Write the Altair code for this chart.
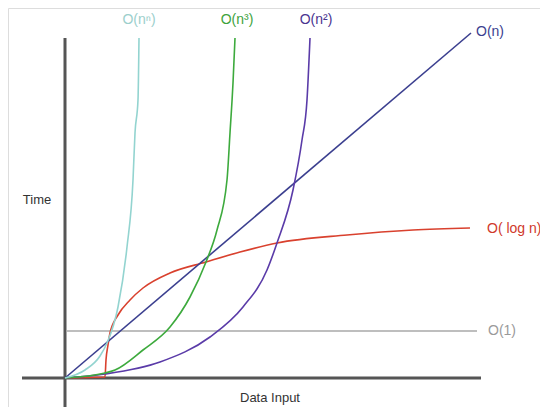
import altair as alt
import pandas as pd

# Curves (x: data input, y: time; arbitrary units)
series_names = ["O(1)", "O(log n)", "O(n)", "O(n²)", "O(n³)", "O(nⁿ)"]
series_colors = ["#a8a8a8", "#d9412e", "#3b3f8f", "#5a3ba8", "#3daa3d", "#93d4d0"]

const_x = [2, 412]
const_y = [47, 47]

log_x = [0, 40, 41, 43, 45, 53, 65, 78, 105, 141, 175, 212, 282, 348, 405]
log_y = [0, 1, 18, 33, 45, 63, 78, 90, 105, 116, 126, 135, 143, 148, 150]

lin_x = [0, 406]
lin_y = [0, 345]

quad_x = [0, 40, 95, 145, 178, 202, 212, 228, 237, 242, 245]
quad_y = [0, 4, 16, 41, 71, 108, 135, 188, 238, 278, 340]

cube_x = [0, 40, 50, 78, 105, 125, 141, 152, 162, 165, 168, 170]
cube_y = [0, 5, 8, 28, 51, 81, 116, 148, 198, 245, 295, 340]

exp_x = [0, 20, 35, 42, 53, 62, 68, 70, 73, 74]
exp_y = [0, 8, 22, 35, 71, 131, 198, 245, 278, 340]

all_x = [const_x, log_x, lin_x, quad_x, cube_x, exp_x]
all_y = [const_y, log_y, lin_y, quad_y, cube_y, exp_y]

rows = []
for name, xs_, ys_ in zip(series_names, all_x, all_y):
    for i, (a, b) in enumerate(zip(xs_, ys_)):
        rows.append({"series": name, "i": i, "x": a, "y": b})
curves = pd.DataFrame(rows)

# axis lines (in data units)
axis_x_start, axis_x_end = -43, 416
axis_y_start, axis_y_end = -37, 340

# labels
top_labels = ["O(nⁿ)", "O(n³)", "O(n²)"]
top_label_x = [74, 172, 251]
top_label_y = [358, 358, 358]
top_label_colors = ["#9ccfcc", "#3da33d", "#4a3590"]

side_labels = ["O(n)", "O( log n)", "O(1)"]
side_label_x = [411, 422, 423]
side_label_y = [346, 149, 47]
side_label_colors = ["#3b3f8f", "#d0392b", "#9a9a9a"]

xs = alt.Scale(domain=[-57, 475], nice=False, zero=False)
ys = alt.Scale(domain=[-29, 370], nice=False, zero=False)

lines = alt.Chart(curves).mark_line(strokeWidth=1.6, clip=False, interpolate="monotone").encode(
    x=alt.X("x:Q", scale=xs, axis=None),
    y=alt.Y("y:Q", scale=ys, axis=None),
    color=alt.Color("series:N", scale=alt.Scale(domain=series_names, range=series_colors), legend=None),
    order="i:Q",
)

axes_df = pd.DataFrame({
    "x": [axis_x_start, 0], "x2": [axis_x_end, 0],
    "y": [0, axis_y_start], "y2": [0, axis_y_end],
})
axes = alt.Chart(axes_df).mark_rule(color="#555555", strokeWidth=3, clip=False).encode(
    x=alt.X("x:Q", scale=xs, axis=None), x2="x2:Q",
    y=alt.Y("y:Q", scale=ys, axis=None), y2="y2:Q",
)

top_df = pd.DataFrame({"t": top_labels, "x": top_label_x, "y": top_label_y, "c": top_label_colors})
top_text = alt.Chart(top_df).mark_text(align="center", baseline="middle", fontSize=14,
                                       font="Liberation Sans").encode(
    x=alt.X("x:Q", scale=xs, axis=None), y=alt.Y("y:Q", scale=ys, axis=None),
    text="t:N", color=alt.Color("c:N", scale=None),
)

side_df = pd.DataFrame({"t": side_labels, "x": side_label_x, "y": side_label_y, "c": side_label_colors})
side_text = alt.Chart(side_df).mark_text(align="left", baseline="middle", fontSize=14,
                                         font="Liberation Sans").encode(
    x=alt.X("x:Q", scale=xs, axis=None), y=alt.Y("y:Q", scale=ys, axis=None),
    text="t:N", color=alt.Color("c:N", scale=None),
)

title_df = pd.DataFrame({"t": ["Time", "Data Input"], "x": [-28, 205], "y": [178, -20]})
titles = alt.Chart(title_df).mark_text(align="center", baseline="middle", fontSize=13,
                                       font="Liberation Sans", color="#333333").encode(
    x=alt.X("x:Q", scale=xs, axis=None), y=alt.Y("y:Q", scale=ys, axis=None),
    text="t:N",
)

chart = alt.layer(axes, lines, top_text, side_text, titles).properties(
    width=532, height=399, padding=0,
    autosize=alt.AutoSizeParams(type="none"),
).configure_view(stroke=None).configure(background="white")

chart.save("out.html", embed_options={"renderer": "svg", "actions": False})
